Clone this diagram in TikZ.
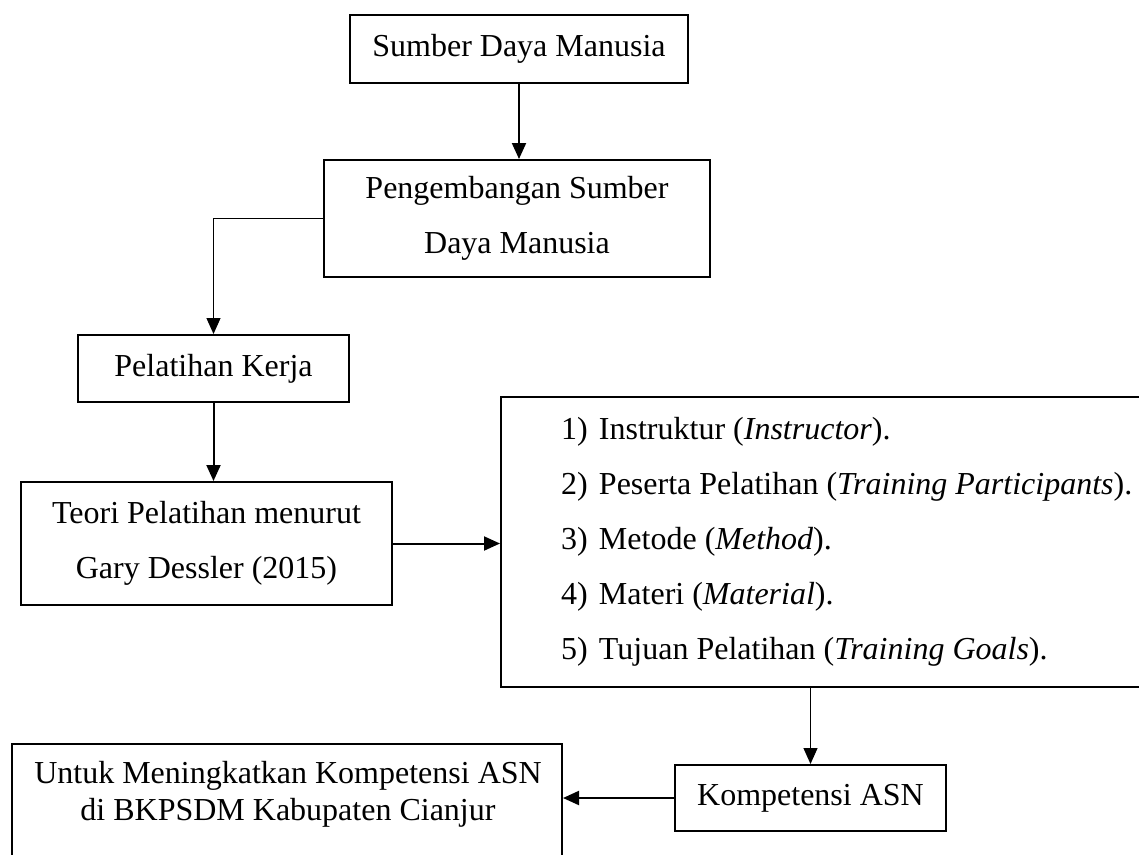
\documentclass[tikz,border=0pt]{standalone}
\usepackage{fontspec}
\setmainfont{Liberation Serif}
\usetikzlibrary{arrows.meta}
\tikzset{
  box/.style={draw, line width=2pt, inner sep=0pt, align=center,
              font=\fontsize{32}{55}\selectfont},
  link/.style={-{Triangle[width=14pt,length=16pt]}, line width=2pt},
  thinlink/.style={link, line width=1.2pt}
}
\begin{document}
\begin{tikzpicture}[x=1pt, y=-1pt]
      \useasboundingbox (0,0) rectangle (1139,854);
      \clip (0,0) rectangle (1139,854);
      \fill[white] (0,0) rectangle (1139,854);
      \node (sdm) [box, minimum width=338pt, minimum height=68pt] at (519,49) {Sumber Daya Manusia};
      \node (psdm) [box, minimum width=386pt, minimum height=117pt] at (517,218.5) {Pengembangan Sumber\\Daya Manusia};
      \node (kerja) [box, minimum width=271pt, minimum height=67pt] at (213.5,368.5) {Pelatihan Kerja};
      \node (teori) [box, minimum width=371pt, minimum height=123pt] at (206.5,543.5) {Teori Pelatihan menurut\\Gary Dessler (2015)};
      \node (faktor) [box, text width=620pt, inner xsep=60pt, minimum height=290pt, align=flush left] at (871,542)
            {\makebox[38pt][l]{1)}Instruktur (\textit{Instructor}).\\
             \makebox[38pt][l]{2)}Peserta Pelatihan (\textit{Training Participants}).\\
             \makebox[38pt][l]{3)}Metode (\textit{Method}).\\
             \makebox[38pt][l]{4)}Materi (\textit{Material}).\\
             \makebox[38pt][l]{5)}Tujuan Pelatihan (\textit{Training Goals}).};
      \node (komp) [box, minimum width=271pt, minimum height=66pt] at (810.5,798) {Kompetensi ASN};
      \node (tujuan) [box, anchor=north west, minimum width=550pt, minimum height=160pt] at (11,743) {};
      \node (tujuantext) [font=\fontsize{32}{37}\selectfont, align=center, inner sep=0pt] at (288,794)
            {Untuk Meningkatkan Kompetensi ASN\\di BKPSDM Kabupaten Cianjur};
      \draw[link] (sdm.south) -- (sdm.south |- psdm.north);
      \draw[thinlink] (psdm.west) -| (kerja.north);
      \draw[link] (kerja.south) -- (kerja.south |- teori.north);
      \draw[link] (teori.east) -- (teori.east -| faktor.west);
      \draw[thinlink] (komp.north |- faktor.south) -- (komp.north);
      \draw[link] (komp.west) -- (komp.west -| tujuan.east);
\end{tikzpicture}
\end{document}
